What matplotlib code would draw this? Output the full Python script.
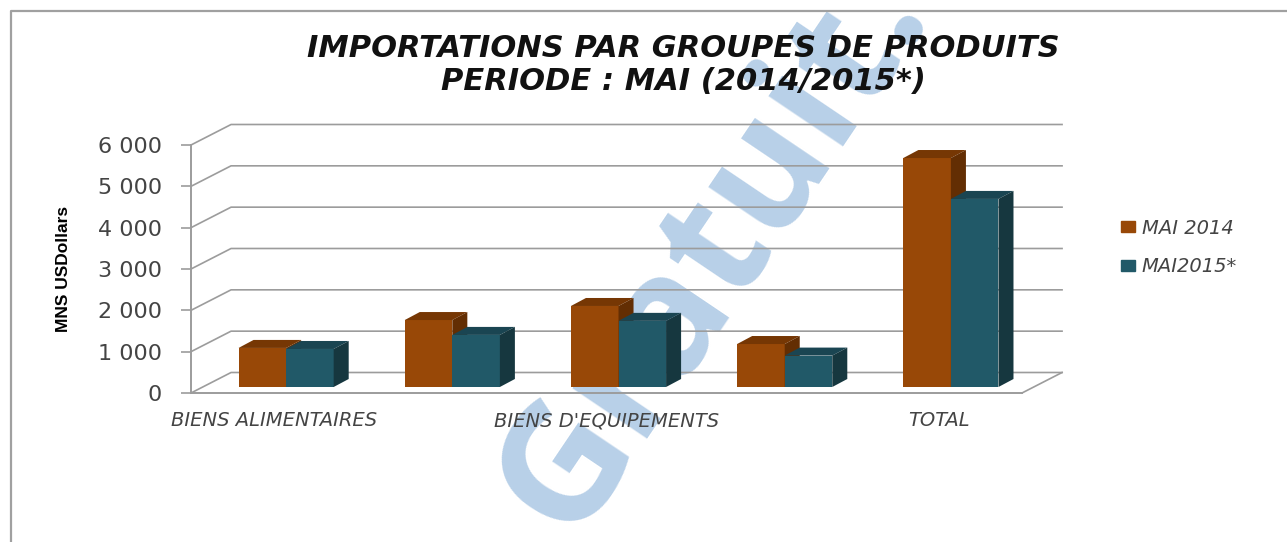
import matplotlib
matplotlib.use('Agg')
from matplotlib import pyplot as plt
from matplotlib.lines import Line2D
from matplotlib.patches import Patch, Polygon

title = 'IMPORTATIONS PAR GROUPES DE PRODUITS\nPERIODE : MAI (2014/2015*)'
y_label = 'MNS USDollars'
watermark = 'Gratuit.'

categories = ['BIENS ALIMENTAIRES', '', "BIENS D'EQUIPEMENTS", '', 'TOTAL']
series_names = ['MAI 2014', 'MAI2015*']
mai_2014 = [945, 1620, 1960, 1040, 5540]
mai_2015 = [920, 1260, 1600, 760, 4550]
y_ticks = [0, 1000, 2000, 3000, 4000, 5000, 6000]
y_tick_labels = ['0', '1 000', '2 000', '3 000', '4 000', '5 000', '6 000']

W, H = 1287, 542
GRID = '#9c9c9c'
TEXT = '#444444'
MARK = '#b8d0e8'
COLORS = [('#984807', '#763704', '#632e03'), ('#215968', '#1a4552', '#16373f')]

# fake 3d offsets, in data units (1 category = 166 px, 1000 = 41.33 px)
WALL_DX, WALL_DY = 40 / 166, 20.5 / 41.33 * 1000
BAR_DX, BAR_DY = 12 / 166, 6 / 41.33 * 1000
DEPTH_X, DEPTH_Y = 15 / 166, 8 / 41.33 * 1000
BAR_W = 47.5 / 166


def draw_walls(ax, n):
    for tick in y_ticks:
        ax.plot([0, WALL_DX, n + WALL_DX], [tick, tick + WALL_DY, tick + WALL_DY],
                color=GRID, lw=1.2, clip_on=False, zorder=1)
    ax.plot([n, n + WALL_DX], [0, WALL_DY], color=GRID, lw=1.2, clip_on=False, zorder=1)


def draw_bars(ax, values, offset, colors):
    front, top, side = colors
    for i, value in enumerate(values):
        x0 = i + 0.5 + offset * BAR_W + BAR_DX
        x1 = x0 + BAR_W
        y0 = BAR_DY
        y1 = BAR_DY + value
        ax.bar(x0, value, BAR_W, bottom=y0, align='edge', color=front, clip_on=False, zorder=3)
        ax.add_patch(Polygon([(x0, y1), (x0 + DEPTH_X, y1 + DEPTH_Y), (x1 + DEPTH_X, y1 + DEPTH_Y), (x1, y1)],
                             color=top, lw=0, clip_on=False, zorder=3))
        ax.add_patch(Polygon([(x1, y0), (x1 + DEPTH_X, y0 + DEPTH_Y), (x1 + DEPTH_X, y1 + DEPTH_Y), (x1, y1)],
                             color=side, lw=0, clip_on=False, zorder=3))


fig = plt.figure(figsize=(W / 100, H / 100), dpi=100)
ax = fig.add_axes([191 / W, 1 - 393 / H, 831 / W, 248 / H])
ax.patch.set_visible(False)
ax.set_xlim(0, len(categories))
ax.set_ylim(0, 6000)

draw_walls(ax, len(categories))
draw_bars(ax, mai_2014, -1, COLORS[0])
draw_bars(ax, mai_2015, 0, COLORS[1])

for name in ['top', 'right']:
    ax.spines[name].set_visible(False)
for name in ['left', 'bottom']:
    ax.spines[name].set_color(GRID)
    ax.spines[name].set_linewidth(1.4)

ax.set_yticks(y_ticks, y_tick_labels, fontsize=16, color=TEXT)
ax.tick_params(axis='y', length=7, width=1.2, color=GRID, pad=14)
shown = [i for i, name in enumerate(categories) if name]
ax.set_xticks([i + 0.5 for i in shown], [categories[i] for i in shown],
              fontsize=14, style='italic', color=TEXT)
ax.tick_params(axis='x', length=0, pad=13)

fig.text(683 / W, 1 - 65 / H, title, ha='center', va='center', fontsize=22,
         fontweight='bold', style='italic', color='#111111', linespacing=1.18)
fig.text(63 / W, 1 - 269 / H, y_label, rotation=90, ha='center', va='center', fontsize=12.5,
         family='Liberation Sans', fontweight='bold', color='black')

handles = [Patch(color=COLORS[0][0], label=series_names[0]), Patch(color=COLORS[1][0], label=series_names[1])]
fig.legend(handles=handles, loc='upper left', bbox_to_anchor=(1103 / W, 1 - 201 / H), frameon=False,
           prop={'size': 14, 'style': 'italic'}, labelcolor=TEXT, labelspacing=1.0,
           handlelength=0.75, handleheight=0.5, handletextpad=0.35)

fig.add_artist(Line2D([10.5 / W, 10.5 / W, 1], [0, 1 - 10.5 / H, 1 - 10.5 / H], color='#a0a0a0', lw=1.6))
fig.text(713 / W, 1 - 250 / H, watermark, rotation=56, ha='center', va='center', fontsize=119,
         family='Open Sans', fontweight='bold', color=MARK, zorder=-1, rotation_mode='anchor')

fig.savefig('out.png', dpi=100)
